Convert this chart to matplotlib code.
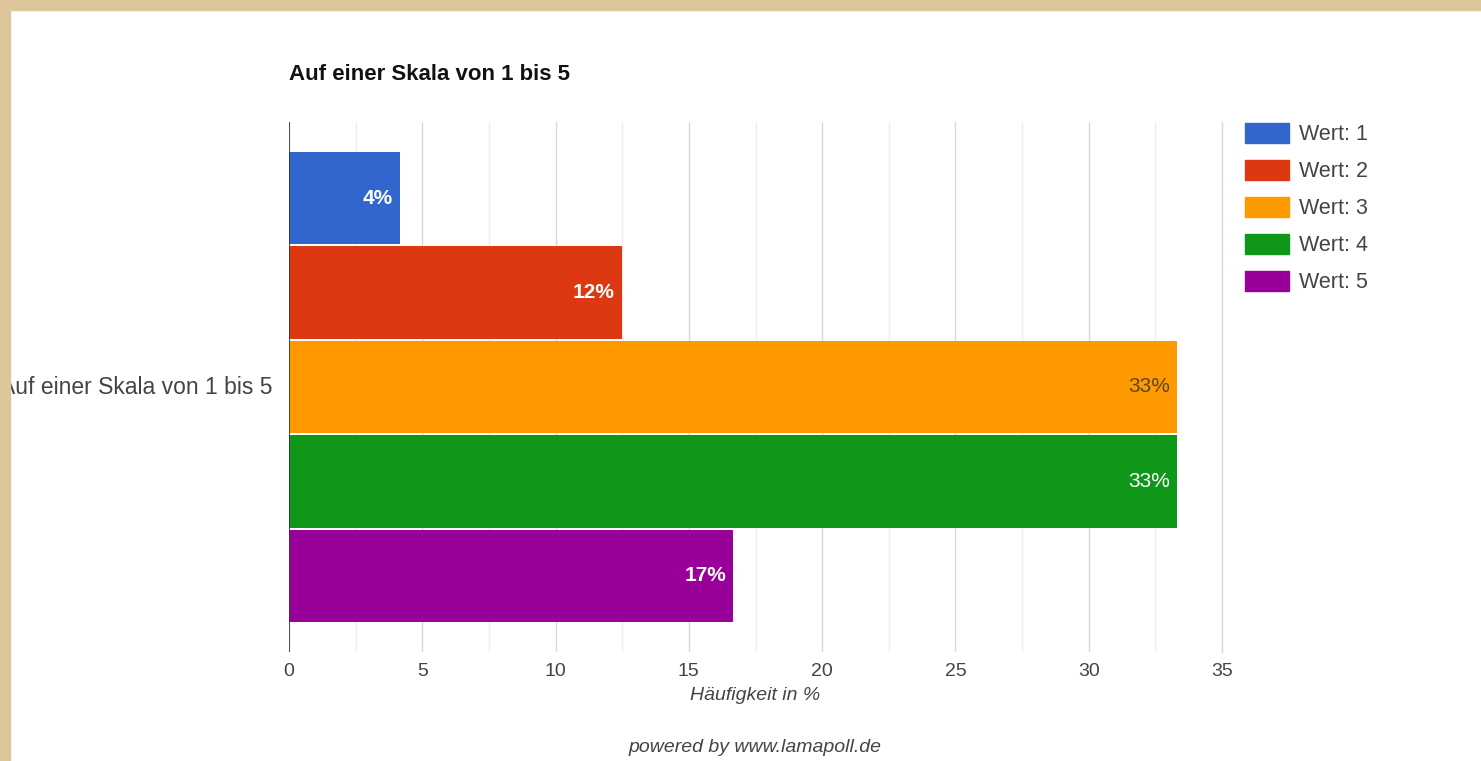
import matplotlib.pyplot as plt
from matplotlib.patches import Rectangle
from matplotlib.ticker import MultipleLocator
import numpy as np

plt.rcParams['font.family'] = ['Liberation Sans', 'DejaVu Sans']

# Data
category = "Auf einer Skala von 1 bis 5"
series = ["Wert: 1", "Wert: 2", "Wert: 3", "Wert: 4", "Wert: 5"]
values = [4.17, 12.5, 33.33, 33.33, 16.67]
labels = ["4%", "12%", "33%", "33%", "17%"]
colors = ["#3366cc", "#dc3912", "#ff9900", "#109618", "#990099"]
label_colors = ["white", "white", "#5e4526", "white", "white"]
label_weights = ["bold", "bold", "normal", "normal", "bold"]

W, H = 1481, 761
fig = plt.figure(figsize=(W / 100, H / 100), dpi=100)
fig.patch.set_facecolor("white")

ax = fig.add_axes([289 / W, 1 - 652 / H, (1222 - 289) / W, (652 - 122) / H])

pos = np.arange(len(values))
bars = ax.barh(pos, values, height=0.98, color=colors, zorder=3)
for i, (b, txt) in enumerate(zip(bars, labels)):
    ax.text(b.get_width() - 0.28, b.get_y() + b.get_height() / 2, txt,
            ha="right", va="center", fontsize=15, color=label_colors[i],
            fontweight=label_weights[i], zorder=4)

ax.set_xlim(0, 35)
ax.set_ylim(4.806, -0.806)
ax.xaxis.set_major_locator(MultipleLocator(5))
ax.xaxis.set_minor_locator(MultipleLocator(2.5))
ax.grid(which="major", axis="x", color="#d9d9d9", linewidth=1, zorder=0)
ax.grid(which="minor", axis="x", color="#eeeeee", linewidth=1, zorder=0)
ax.axvline(35, color="#d9d9d9", linewidth=1, zorder=0, clip_on=False)
ax.axvline(0, color="#333333", linewidth=1.2, zorder=5)

for s in ax.spines.values():
    s.set_visible(False)
ax.tick_params(axis="x", which="both", length=0, pad=8, labelsize=14, labelcolor="#444444")
ax.tick_params(axis="y", length=0)
ax.set_yticks([])

ax.set_xlabel("Häufigkeit in %", fontsize=14, style="italic", color="#444444", labelpad=5)

fig.text(272 / W, 1 - 387 / H, category, ha="right", va="center", fontsize=16.5, color="#444444")
fig.text(289 / W, 1 - 75 / H, category, ha="left", va="center", fontsize=16,
         fontweight="bold", color="#111111")
fig.text(755 / W, 1 - 748 / H, "powered by www.lamapoll.de", ha="center", va="center",
         fontsize=14, style="italic", color="#444444")

handles = [Rectangle((0, 0), 1, 1, color=c) for c in colors]
fig.legend(handles, series, loc="upper left", bbox_to_anchor=(1245 / W, 1 - 123 / H),
           frameon=False, fontsize=15.5, handlelength=2.05, handleheight=1.05,
           handletextpad=0.45, labelspacing=0.68, borderpad=0, borderaxespad=0,
           labelcolor="#444444")

# beige frame on top and left
fig.patches.append(Rectangle((0, 1 - 10 / H), 1, 10 / H, transform=fig.transFigure,
                             color="#dcc69a", zorder=10))
fig.patches.append(Rectangle((0, 0), 10 / W, 1, transform=fig.transFigure,
                             color="#dcc69a", zorder=10))

fig.savefig("out.png", dpi=100)
